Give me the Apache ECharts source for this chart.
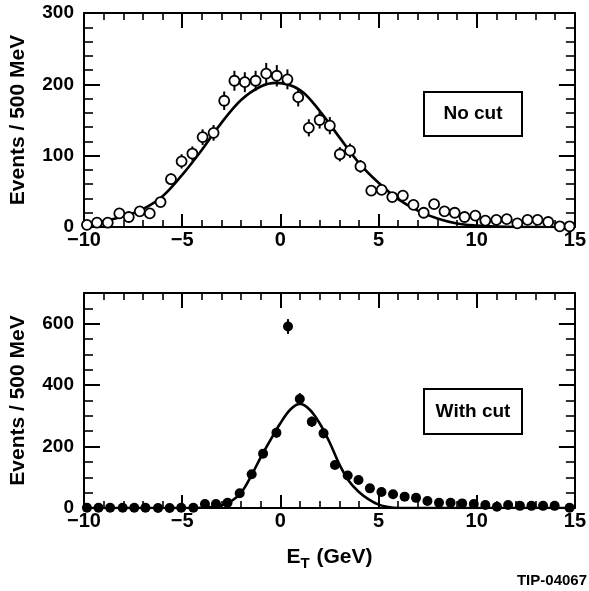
<!DOCTYPE html>
<html>
<head>
<meta charset="utf-8">
<script src="https://cdn.jsdelivr.net/npm/echarts@6/dist/echarts.min.js"></script>
<style>
html,body{margin:0;padding:0;background:#fff;}
#c{width:589px;height:591px;}
</style>
</head>
<body>
<div id="c"></div>
<script>
// ---- Data ----
// Top panel: "No cut"
var topX = [-9.85,-9.34,-8.79,-8.2,-7.72,-7.16,-6.65,-6.1,-5.57,-5.03,-4.48,-3.96,-3.4,-2.86,-2.34,-1.81,-1.26,-0.72,-0.18,0.36,0.91,1.45,2.0,2.52,3.03,3.55,4.08,4.63,5.16,5.7,6.24,6.78,7.3,7.83,8.36,8.88,9.38,9.93,10.44,11.0,11.53,12.07,12.59,13.1,13.64,14.23,14.73];
var topY = [3,6,6,19,14,22,19,35,67,92,103,126,132,177,205,203,205,215,212,207,182,139,150,142,102,107,85,51,52,42,44,31,20,32,22,20,14,16,9,10,11,5,10,10,7,1,1];
var topErr = [2,2,2,4,4,5,4,6,8,10,10,11,11,13,14,14,14,15,15,14,13,12,12,12,10,10,9,7,7,6,7,6,5,6,5,5,4,4,3,3,3,2,3,3,3,1,1];
var topFitX = [-10,-9,-8,-7,-6,-5,-4,-3,-2,-1,-0.2,1,2,3,4,5,6,7,8,9,10,11,12,13,14,15];
var topFitY = [3,8,15,25,43,73,108,146,178,197,202,192,163,126,90,62,39,23,12,5,2,0.5,0,0,0,0];

// Bottom panel: "With cut"
var botX = [-9.85,-9.26,-8.67,-8.03,-7.44,-6.87,-6.23,-5.64,-5.05,-4.43,-3.84,-3.28,-2.69,-2.07,-1.46,-0.88,-0.2,0.39,0.99,1.6,2.2,2.78,3.43,3.98,4.56,5.15,5.74,6.33,6.91,7.49,8.08,8.67,9.26,9.85,10.44,11.03,11.6,12.2,12.79,13.38,13.97,14.73];
var botY = [1,1,1,1,1,1,0,0,1,1,13,13,17,48,110,177,245,591,355,281,243,140,106,91,64,52,45,37,33,23,17,17,15,13,10,4,10,7,7,7,7,1];
var botErr = [1,1,1,1,1,1,0,0,1,1,4,4,4,7,10,13,16,24,19,17,16,12,10,10,8,7,7,6,6,5,4,4,4,4,3,2,3,3,3,3,3,1];
var botFitX = [-10,-4.5,-4,-3.5,-3,-2.5,-2,-1.5,-1,-0.5,0,0.5,1,1.5,2,2.5,3,3.5,4,4.5,5,5.5,6,10,15];
var botFitY = [0,0,1,3,8,22,50,103,165,222,276,320,339,320,276,215,143,87,52,28,11,3,0,0,0];

var xTicks = [-10,-5,0,5,10,15];

function zip3(a,b,c){var r=[];for(var i=0;i<a.length;i++){r.push(c?[a[i],b[i],c[i]]:[a[i],b[i]]);}return r;}

var FONT = "'Liberation Sans', Arial, Helvetica, sans-serif";
var chart = echarts.init(document.getElementById('c'), null, {renderer:'canvas'});

function xAx(grid, pos, labels, name){
  return {
    type:'value', gridIndex:grid, position:pos, min:xTicks[0], max:xTicks[xTicks.length-1], interval:5,
    axisLine:{show:true, onZero:false, lineStyle:{color:'#000', width:2}},
    axisTick:{show:true, inside:true, length:pos==='top'?15:13, lineStyle:{color:'#000', width:2}},
    minorTick:{show:true, splitNumber:5, length:7, lineStyle:{color:'#000', width:1.6}},
    splitLine:{show:false},
    axisLabel:{show:labels, color:'#000', fontFamily:FONT, fontWeight:'bold', fontSize:20, margin:3,
      formatter:function(v){return String(v).replace('-', '\u2212');}},
    name: name || '', nameLocation:'middle', nameGap:36,
    nameTextStyle:{color:'#000', fontFamily:FONT, fontWeight:'bold', fontSize:21,
      rich:{
        b:{fontFamily:FONT, fontWeight:'bold', fontSize:21, color:'#000'},
        s:{fontFamily:FONT, fontWeight:'bold', fontSize:15, color:'#000', verticalAlign:'bottom', padding:[12,1,0,0]}
      }}
  };
}
function yAx(grid, pos, labels, max, interval, minorSplit){
  return {
    type:'value', gridIndex:grid, position:pos, min:0, max:max, interval:interval,
    axisLine:{show:true, onZero:false, lineStyle:{color:'#000', width:2}},
    axisTick:{show:true, inside:true, length:16, lineStyle:{color:'#000', width:2}},
    minorTick:{show:true, splitNumber:minorSplit, length:9, lineStyle:{color:'#000', width:1.6}},
    splitLine:{show:false},
    axisLabel:{show:labels, color:'#000', fontFamily:FONT, fontWeight:'bold', fontSize:19, margin:10, showMaxLabel: max%interval===0},
    name: labels ? 'Events / 500 MeV' : '', nameLocation:'middle', nameRotate:90, nameGap:55,
    nameTextStyle:{color:'#000', fontFamily:FONT, fontWeight:'bold', fontSize:21}
  };
}

function errSeries(xi, yi, data){
  return {
    type:'custom', xAxisIndex:xi, yAxisIndex:yi, data:data, z:3,
    renderItem:function(params, api){
      var x=api.value(0), y=api.value(1), e=api.value(2);
      var p1=api.coord([x,y+e]), p2=api.coord([x,y-e]);
      return {type:'line', shape:{x1:p1[0],y1:p1[1],x2:p2[0],y2:p2[1]}, style:{stroke:'#000', lineWidth:2}};
    }
  };
}

var option = {
  backgroundColor:'#fff',
  animation:false,
  grid:[
    {left:82, right:11, top:13, height:214},
    {left:82, right:11, top:293, height:215}
  ],
  xAxis:[
    xAx(0,'bottom',true),
    xAx(0,'top',false),
    xAx(1,'bottom',true,'{b|E}{s|T}{b| (GeV)}'),
    xAx(1,'top',false)
  ],
  yAxis:[
    yAx(0,'left',true,300,100,5),
    yAx(0,'right',false,300,100,5),
    yAx(1,'left',true,700,200,4),
    yAx(1,'right',false,700,200,4)
  ],
  series:[
    {type:'line', xAxisIndex:0, yAxisIndex:0, data:zip3(topFitX, topFitY), smooth:0.35, showSymbol:false, z:2,
      lineStyle:{color:'#000', width:2.6}},
    errSeries(0,0,zip3(topX, topY, topErr)),
    {type:'scatter', xAxisIndex:0, yAxisIndex:0, data:zip3(topX, topY), symbol:'circle', symbolSize:10, z:4,
      itemStyle:{color:'#fff', borderColor:'#000', borderWidth:1.8, opacity:1}},
    {type:'line', xAxisIndex:2, yAxisIndex:2, data:zip3(botFitX, botFitY), smooth:0.35, showSymbol:false, z:2,
      lineStyle:{color:'#000', width:2.6}},
    errSeries(2,2,zip3(botX, botY, botErr)),
    {type:'scatter', xAxisIndex:2, yAxisIndex:2, data:zip3(botX, botY), symbol:'circle', symbolSize:10, z:4,
      itemStyle:{color:'#000', borderColor:'#000', borderWidth:0, opacity:1}}
  ],
  graphic:[
    {type:'rect', shape:{x:424, y:92, width:98, height:44}, style:{fill:'#fff', stroke:'#000', lineWidth:2}, z:10},
    {type:'text', x:473, y:114, style:{text:'No cut', fill:'#000', font:'bold 19px ' + FONT, textAlign:'center', textVerticalAlign:'middle'}, z:11},
    {type:'rect', shape:{x:424, y:389, width:98, height:45}, style:{fill:'#fff', stroke:'#000', lineWidth:2}, z:10},
    {type:'text', x:473, y:411.5, style:{text:'With cut', fill:'#000', font:'bold 19px ' + FONT, textAlign:'center', textVerticalAlign:'middle'}, z:11},
    {type:'text', x:587, y:581, style:{text:'TIP-04067', fill:'#000', font:'bold 15px ' + FONT, textAlign:'right', textVerticalAlign:'middle'}, z:11}
  ]
};
chart.setOption(option);
</script>
</body>
</html>
